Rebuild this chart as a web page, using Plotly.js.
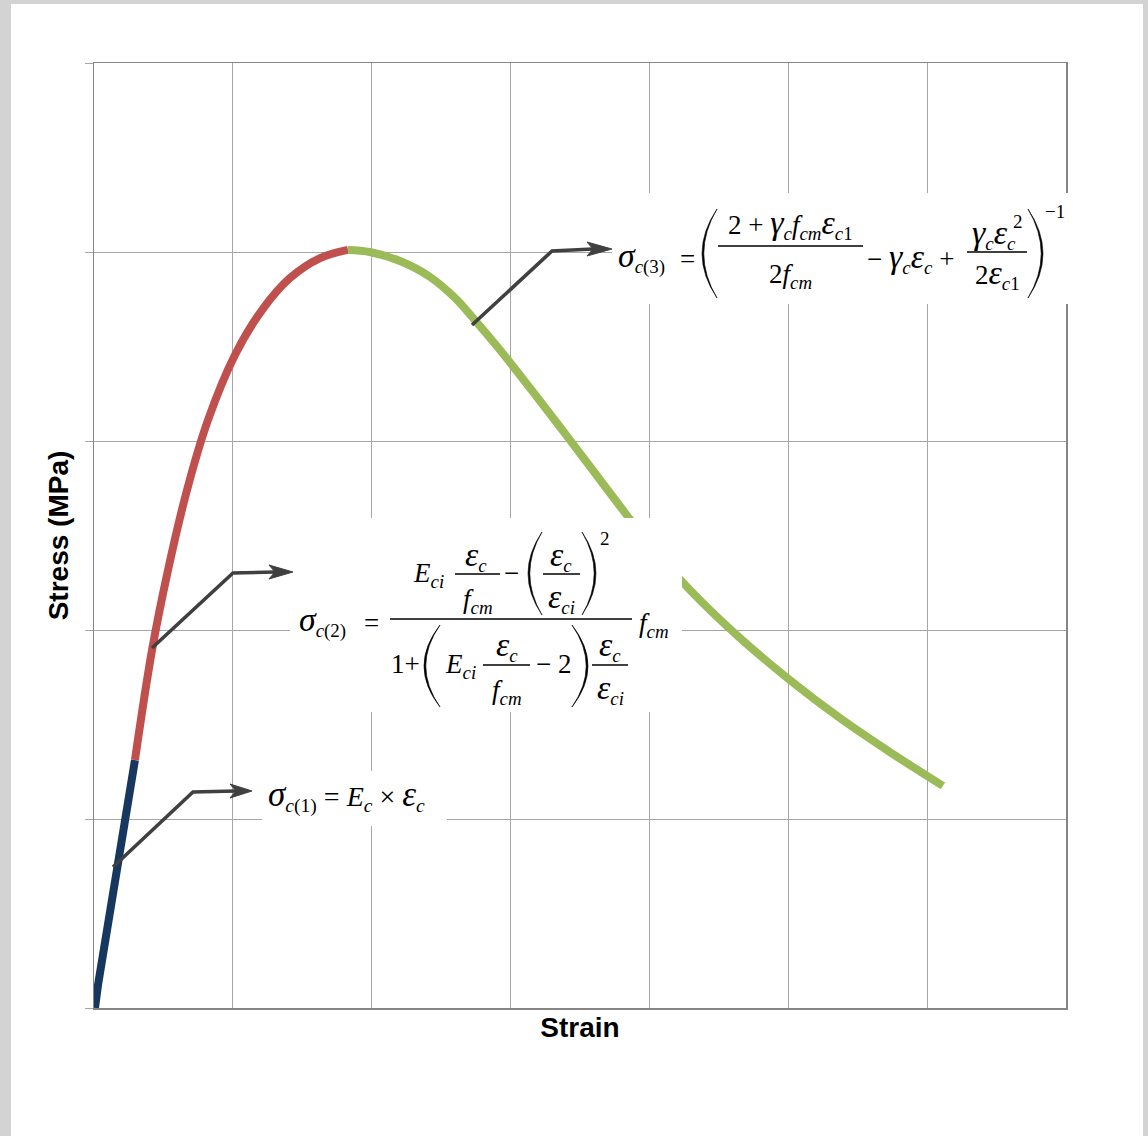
<!DOCTYPE html>
<html>
<head>
<meta charset="utf-8">
<script src="https://cdn.plot.ly/plotly-3.0.1.min.js"></script>
<style>
  html, body { margin:0; padding:0; background:#d3d3d3; }
  #frame { position:absolute; left:11px; top:4px; width:1132px; height:1132px; background:#ffffff; }
  #chart { position:absolute; left:0; top:0; width:1148px; height:1136px; }
</style>
</head>
<body>
<div id="frame"></div>
<div id="chart"></div>
<script>
// ---- data (strain in grid units, stress in grid units; axes carry no tick labels) ----
const strainElastic = [0.007, 0.029, 0.295];
const stressElastic = [0.000, 0.122, 1.312];

const strainAscending = [0.295, 0.418, 0.533, 0.670, 0.821, 1.015, 1.210, 1.411, 1.628, 1.829];
const stressAscending = [1.312, 1.894, 2.317, 2.741, 3.111, 3.455, 3.693, 3.862, 3.968, 4.011];

const strainDescending = [1.829, 1.987, 2.204, 2.420, 2.600, 2.729, 2.924, 3.140, 3.428, 3.716, 4.004, 4.292, 4.652, 5.012, 5.372, 5.732, 6.114];
const stressDescending = [4.011, 4.000, 3.952, 3.868, 3.757, 3.651, 3.481, 3.280, 3.005, 2.725, 2.450, 2.212, 1.958, 1.735, 1.534, 1.354, 1.175];

const xTitle = 'Strain';
const yTitle = 'Stress (MPa)';

// ---- layout helpers (pixel -> paper) ----
const L = 94, R = 1066, TOP = 63, BOT = 1008;
const P = px => (px - L) / (R - L);
const Q = py => (BOT - py) / (BOT - TOP);
const SERIF = '"Liberation Serif", "Times New Roman", serif';
const INK = '#404040';
const GS = 1.25;   // Greek glyphs drawn larger, as in the reference typesetting

function T(text, px, base, size, xanchor) {
  const hasSub = /<sub>/.test(text), hasSup = /<sup>/.test(text), hasBig = /<span/.test(text);
  let top = hasSup ? -1.044 : -0.891;
  if (hasBig) top = Math.min(top, -0.891 * GS);
  let bot = hasSub ? 0.36 : 0.216;
  if (hasBig) bot = Math.max(bot, 0.216 * GS);
  const yc = base + (top + bot) / 2 * size;
  return {xref:'paper', yref:'paper', x:P(px), y:Q(yc), xanchor:xanchor || 'left', yanchor:'middle',
          text:text, showarrow:false, font:{family:SERIF, size:size, color:'#000'}};
}
function box(x0, y0, x1, y1) {
  return {type:'rect', xref:'paper', yref:'paper', x0:P(x0), x1:P(x1), y0:Q(y1), y1:Q(y0),
          fillcolor:'#ffffff', line:{width:0}, layer:'above'};
}
function hline(x0, x1, y, w) {
  return {type:'line', xref:'paper', yref:'paper', x0:P(x0), x1:P(x1), y0:Q(y), y1:Q(y),
          line:{color:'#000', width:w || 1.3}, layer:'above'};
}
function pt(x, y) { return P(x).toFixed(5) + ',' + Q(y).toFixed(5); }
function paren(xl, xr, yt, yb, left) {
  const ym = (yt + yb) / 2, t = 1.8;
  let path;
  if (left) {
    const cOut = 2 * xl - xr, cIn = 2 * (xl + t) - xr;
    path = 'M' + pt(xr, yt) + ' Q' + pt(cOut, ym) + ' ' + pt(xr, yb) + ' Q' + pt(cIn, ym) + ' ' + pt(xr, yt) + ' Z';
  } else {
    const cOut = 2 * xr - xl, cIn = 2 * (xr - t) - xl;
    path = 'M' + pt(xl, yt) + ' Q' + pt(cOut, ym) + ' ' + pt(xl, yb) + ' Q' + pt(cIn, ym) + ' ' + pt(xl, yt) + ' Z';
  }
  return {type:'path', xref:'paper', yref:'paper', path:path, fillcolor:'#000', line:{color:'#000', width:0.6}, layer:'above'};
}
function callout(x0, y0, xe, ye, xn, yn, xt, yt, hw) {
  const line = {type:'path', xref:'paper', yref:'paper',
    path:'M' + pt(x0, y0) + ' L' + pt(xe, ye) + ' L' + pt(xn, yn),
    line:{color:INK, width:3.6}, layer:'above'};
  const bx = xn - 6;
  const head = {type:'path', xref:'paper', yref:'paper',
    path:'M' + pt(xt, yt) + ' L' + pt(bx, yt - hw) + ' L' + pt(xn, yn) + ' L' + pt(bx, yt + hw) + ' Z',
    fillcolor:INK, line:{color:INK, width:1}, layer:'above'};
  return [line, head];
}

const traces = [
  {x:strainElastic, y:stressElastic, mode:'lines', line:{color:'#17375e', width:8}, hoverinfo:'skip', showlegend:false},
  {x:strainAscending, y:stressAscending, mode:'lines', line:{color:'#c0504d', width:8, shape:'spline'}, hoverinfo:'skip', showlegend:false},
  {x:strainDescending, y:stressDescending, mode:'lines', line:{color:'#9bbb59', width:8, shape:'spline'}, hoverinfo:'skip', showlegend:false}
];

const i = s => '<i>' + s + '</i>';
const g = s => '<span style="font-size:' + GS + 'em"><i>' + s + '</i></span>';
const sub = s => '<sub>' + s + '</sub>';

const shapes = [
  box(612, 193, 1072, 304),
  box(290, 518, 682, 712),
  box(262, 771, 447, 826),
  ...callout(113, 867, 193, 792, 236, 791, 252, 791, 7),
  ...callout(152, 648, 233, 573, 275, 572, 293, 572, 7),
  ...callout(472, 325, 552, 251, 593, 249, 612, 249, 7),
  // eq2
  hline(390, 632, 619),
  hline(455, 500, 574), hline(543, 580, 574),
  paren(528, 542, 532, 615, true), paren(582, 596, 532, 615, false),
  hline(483, 530, 665), hline(592, 628, 665),
  paren(424, 440, 625, 707, true), paren(572, 588, 625, 707, false),
  // eq3
  paren(702, 717, 209, 298, true), paren(1028, 1043, 209, 298, false),
  hline(718, 863, 246), hline(967, 1027, 252)
];

const S1 = 28, S2 = 27, S3 = 27, SS = 19;
const annotations = [
  // eq1
  T(g('σ') + sub(i('c') + '(1)') + ' = ' + i('E') + sub(i('c')) + ' × ' + g('ε') + sub(i('c')), 266, 807, S1),
  // eq2
  T(g('σ') + sub(i('c') + '(2)'), 297, 632, S2),
  T('=', 362, 632, S2),
  T(i('f') + sub(i('cm')), 637, 632, S2),
  T(i('E') + sub(i('ci')), 411, 582, S2),
  T(g('ε') + sub(i('c')), 476, 566, S2, 'center'),
  T(i('f') + sub(i('cm')), 478, 608, S2, 'center'),
  T('−', 511, 582, S2, 'center'),
  T(g('ε') + sub(i('c')), 561, 566, S2, 'center'),
  T(g('ε') + sub(i('ci')), 561, 608, S2, 'center'),
  T('2', 598, 545, SS),
  T('1+', 389, 673, S2),
  T(i('E') + sub(i('ci')), 443, 673, S2),
  T(g('ε') + sub(i('c')), 507, 656, S2, 'center'),
  T(i('f') + sub(i('cm')), 507, 699, S2, 'center'),
  T('− 2', 534, 673, S2),
  T(g('ε') + sub(i('c')), 610, 656, S2, 'center'),
  T(g('ε') + sub(i('ci')), 610, 699, S2, 'center'),
  // eq3
  T(g('σ') + sub(i('c') + '(3)'), 616, 268, S3),
  T('=', 678, 268, S3),
  T('−1', 1043, 218, SS),
  T('2 + ' + g('γ') + sub(i('c')) + i('f') + sub(i('cm')) + g('ε') + sub(i('c') + '1'), 790, 234, S3, 'center'),
  T('2' + i('f') + sub(i('cm')), 790, 283, S3, 'center'),
  T('− ' + g('γ') + sub(i('c')) + g('ε') + sub(i('c')) + ' +', 865, 268, S3),
  T(g('γ') + sub(i('c')) + g('ε') + sub(i('c')), 994, 244, S3, 'center'),
  T('2', 1011, 228, SS),
  T('2' + g('ε') + sub(i('c') + '1'), 997, 284, S3, 'center')
];

const layout = {
  width:1148, height:1136,
  margin:{l:L, r:1148 - R, t:TOP, b:1136 - BOT},
  paper_bgcolor:'rgba(0,0,0,0)', plot_bgcolor:'#ffffff',
  showlegend:false,
  xaxis:{range:[0, 7], dtick:1, tick0:0, showgrid:true, gridcolor:'#a6a6a6', gridwidth:1,
         showline:true, mirror:true, linecolor:'#868686', linewidth:1.5, zeroline:false,
         showticklabels:false, ticks:'', fixedrange:true,
         title:{text:xTitle, standoff:9, font:{family:'"Liberation Sans", Arial, sans-serif', size:28, color:'#000', weight:'bold'}}},
  yaxis:{range:[0, 5], dtick:1, tick0:0, showgrid:true, gridcolor:'#a6a6a6', gridwidth:1,
         showline:true, mirror:true, linecolor:'#868686', linewidth:1.5, zeroline:false,
         showticklabels:false, ticks:'outside', ticklen:8, tickcolor:'#a6a6a6', tickwidth:1, fixedrange:true,
         title:{text:yTitle, standoff:7, font:{family:'"Liberation Sans", Arial, sans-serif', size:28, color:'#000', weight:'bold'}}},
  shapes:shapes,
  annotations:annotations
};

Plotly.newPlot('chart', traces, layout, {displayModeBar:false, staticPlot:true});
</script>
</body>
</html>
